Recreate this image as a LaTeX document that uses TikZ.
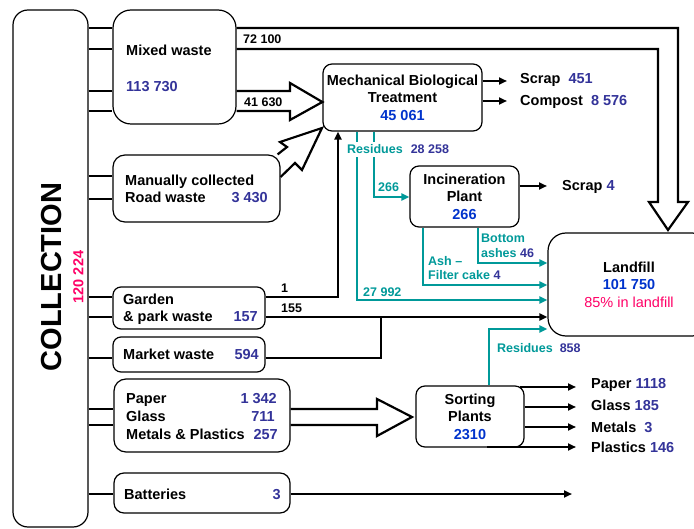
\documentclass[tikz,border=0pt]{standalone}
\usepackage{fontspec}
\setmainfont{Liberation Sans}
\usetikzlibrary{arrows.meta}

\definecolor{numblue}{RGB}{51,51,153}
\definecolor{totblue}{RGB}{0,51,204}
\definecolor{flowteal}{RGB}{0,153,153}
\definecolor{hotpink}{RGB}{255,0,102}

\tikzstyle{block} = [rectangle, draw, line width=1.2pt, rounded corners=9pt,
    inner sep=0pt, align=center, font=\fontsize{14.5}{17.5}\selectfont\bfseries]
\tikzstyle{txt} = [inner sep=0pt, font=\fontsize{14.5}{17.5}\selectfont\bfseries]
\tikzstyle{small} = [inner sep=0pt, font=\fontsize{12.5}{15}\selectfont\bfseries]
\tikzstyle{line} = [draw, line width=2.2pt]
\tikzstyle{flowline} = [line, -{Triangle[length=8pt,width=7pt]}]
\tikzstyle{tealline} = [draw, flowteal, line width=2pt, -{Triangle[length=8pt,width=7pt]}]
\tikzstyle{hollow} = [draw, line width=2.2pt, line join=miter]

\begin{document}
\begin{tikzpicture}[x=1pt, y=-1pt]
	\useasboundingbox (0,0) rectangle (694,529);
	\clip (0,0) rectangle (694,529);

	% Nodes
	\node [block, rounded corners=15pt, minimum width=75pt, minimum height=517pt] (Collection) at (50.5,268.5) {};
	\node [rotate=90, inner sep=0pt, font=\fontsize{29}{32}\selectfont\bfseries] (CollectionTitle) at (51.5,277) {COLLECTION};
	\node [txt, rotate=90, hotpink] (CollectionQty) at (78.5,277) {120 224};

	\node [block, rounded corners=18pt, minimum width=123pt, minimum height=114pt] (MixedWaste) at (174.5,67) {};
	\node [txt, anchor=base west] (MixedWasteName) at (126,55.5) {Mixed waste};
	\node [txt, anchor=base west, numblue] (MixedWasteQty) at (126,91.5) {113 730};

	\node [block, rounded corners=12pt, minimum width=167pt, minimum height=67pt] (ManualRoad) at (196.5,188.5) {};
	\node [txt, anchor=base west] (ManualRoadName) at (125,186) {Manually collected};
	\node [txt, anchor=base west] (ManualRoadName2) at (125,203) {Road waste};
	\node [txt, anchor=base east, numblue] (ManualRoadQty) at (268,203) {3 430};

	\node [block, rounded corners=8pt, minimum width=152pt, minimum height=42pt] (Garden) at (189,308) {};
	\node [txt, anchor=base west] (GardenName) at (123,305) {Garden};
	\node [txt, anchor=base west] (GardenName2) at (123,322) {\& park waste};
	\node [txt, anchor=base east, numblue] (GardenQty) at (258,322) {157};

	\node [block, rounded corners=8pt, minimum width=152pt, minimum height=35pt] (Market) at (189,354.5) {};
	\node [txt, anchor=base west] (MarketName) at (123,360) {Market waste};
	\node [txt, anchor=base east, numblue] (MarketQty) at (259,360) {594};

	\node [block, rounded corners=12pt, minimum width=176pt, minimum height=73pt] (Recyclables) at (202,415.5) {};
	\node [txt, anchor=base west] (PaperName) at (126,404) {Paper};
	\node [txt, anchor=base east, numblue] (PaperQty) at (277,404) {1 342};
	\node [txt, anchor=base west] (GlassName) at (126,422) {Glass};
	\node [txt, anchor=base east, numblue] (GlassQty) at (275,422) {711};
	\node [txt, anchor=base west] (MetalsName) at (126,439) {Metals \& Plastics};
	\node [txt, anchor=base east, numblue] (MetalsQty) at (278,439) {257};

	\node [block, rounded corners=10pt, minimum width=176pt, minimum height=40pt] (Batteries) at (202,493) {};
	\node [txt, anchor=base west] (BatteriesName) at (124,499) {Batteries};
	\node [txt, anchor=base east, numblue] (BatteriesQty) at (281,499) {3};

	\node [block, minimum width=159pt, minimum height=67pt] (MBT) at (402.5,97.5) {Mechanical Biological\\Treatment\\\textcolor{totblue}{45 061}};
	\node [block, minimum width=109pt, minimum height=61pt] (Incineration) at (464.5,196.5) {Incineration\\Plant\\\textcolor{totblue}{266}};
	\node [block, minimum width=108pt, minimum height=61pt] (Sorting) at (470,416.5) {Sorting\\Plants\\\textcolor{totblue}{2310}};
	\node [block, rounded corners=18pt, minimum width=162pt, minimum height=103pt] (Landfill) at (629,284.5) {Landfill\\\textcolor{totblue}{101 750}\\\textcolor{hotpink}{\mdseries 85\% in landfill}};

	\node [txt, anchor=base west] (ScrapMBT) at (520,84) {Scrap\hspace{8pt}\textcolor{numblue}{451}};
	\node [txt, anchor=base west] (Compost) at (520,106) {Compost\hspace{8pt}\textcolor{numblue}{8 576}};
	\node [txt, anchor=base west] (ScrapInc) at (562,191) {Scrap \textcolor{numblue}{4}};
	\node [txt, anchor=base west] (PaperOut) at (591,389) {Paper \textcolor{numblue}{1118}};
	\node [txt, anchor=base west] (GlassOut) at (591,411) {Glass \textcolor{numblue}{185}};
	\node [txt, anchor=base west] (MetalsOut) at (591,432) {Metals\hspace{8pt}\textcolor{numblue}{3}};
	\node [txt, anchor=base west] (PlasticsOut) at (591,453) {Plastics \textcolor{numblue}{146}};
	\coordinate (BatteriesEnd) at (572,494);

	% Collection links
	\foreach \y in {28,49,91,111}
		\path [line] (Collection.east |- 0,\y) -- (MixedWaste.west |- 0,\y);
	\foreach \y in {176,199}
		\path [line] (Collection.east |- 0,\y) -- (ManualRoad.west |- 0,\y);
	\foreach \y in {297,317}
		\path [line] (Collection.east |- 0,\y) -- (Garden.west |- 0,\y);
	\path [line] (Collection.east |- 0,358) -- (Market.west |- 0,358);
	\foreach \y in {409,425}
		\path [line] (Collection.east |- 0,\y) -- (Recyclables.west |- 0,\y);
	\path [line] (Collection.east |- 0,494) -- (Batteries.west |- 0,494);

	% Hollow arrows
	\path [hollow] (MixedWaste.east |- 0,28) -- (678,28) -- (678,202) -- (688,202) -- (668,230)
		-- (649,202) -- (658,202) -- (658,49) -- (MixedWaste.east |- 0,49);
	\path [hollow] (MixedWaste.east |- 0,91) -- (290,91) -- (290,83) -- (MBT.west |- 0,102)
		-- (290,120) -- (290,111) -- (MixedWaste.east |- 0,111);
	\path [hollow] ([xshift=-3pt]ManualRoad.north east) -- (287,147) -- (280,142) -- (322,128)
		-- (302,170) -- (295,163) -- (ManualRoad.east |- 0,177);
	\path [hollow] (Recyclables.east |- 0,409) -- (377,409) -- (377,399) -- (412,417)
		-- (377,436) -- (377,425) -- (Recyclables.east |- 0,425);

	% Arrows
	\path [flowline] (Garden.east |- 0,297) -- (338,297) -- (338,0 |- MBT.south);
	\path [flowline] (Garden.east |- 0,317) -- (Landfill.west |- 0,317);
	\path [line] (Market.east |- 0,358) -- (381,358) -- (381,317);
	\path [flowline] (Batteries.east |- 0,494) -- (BatteriesEnd);
	\path [flowline] (MBT.east |- 0,81) -- ([xshift=-13pt]ScrapMBT.west |- 0,81);
	\path [flowline] (MBT.east |- 0,101) -- ([xshift=-13pt]Compost.west |- 0,101);
	\path [flowline] (Incineration.east |- 0,186) -- ([xshift=-15pt]ScrapInc.west |- 0,186);
	\path [flowline] (520,387) -- ([xshift=-15pt]PaperOut.west |- 0,387);
	\path [flowline] (Sorting.east |- 0,407) -- ([xshift=-15pt]GlassOut.west |- 0,407);
	\path [flowline] (Sorting.east |- 0,427) -- ([xshift=-15pt]MetalsOut.west |- 0,427);
	\path [flowline] (487,447) -- ([xshift=-15pt]PlasticsOut.west |- 0,447);

	% Residue flows
	\path [tealline] (357,0 |- MBT.south) -- (357,300) -- (Landfill.west |- 0,300);
	\path [tealline] (374,0 |- MBT.south) -- (374,197) -- (Incineration.west |- 0,197);
	\path [tealline] (423,0 |- Incineration.south) -- (423,285) -- (Landfill.west |- 0,285);
	\path [tealline] (478,0 |- Incineration.south) -- (478,263) -- (Landfill.west |- 0,263);
	\path [tealline] (489,0 |- Sorting.north) -- (489,329) -- (Landfill.west |- 0,329);

	% Flow labels
	\node [small, anchor=base west] (MixedToLandfill) at (243,44) {72 100};
	\node [small, anchor=base west] (MixedToMBT) at (244,107) {41 630};
	\node [small, anchor=base west] (GardenToMBT) at (281,293) {1};
	\node [small, anchor=base west] (GardenToLandfill) at (281,313) {155};
	\node [small, anchor=base west, fill=white, inner sep=3pt] (MBTResidues) at (344,154)
		{\textcolor{flowteal}{Residues}\hspace{8pt}\textcolor{numblue}{28 258}};
	\node [small, anchor=base west, flowteal] (MBTToInc) at (378,192) {266};
	\node [small, anchor=base west, flowteal] (MBTToLandfill) at (363,297) {27 992};
	\node [small, anchor=base west, flowteal] (BottomAsh) at (481,243) {Bottom};
	\node [small, anchor=base west, flowteal] (BottomAsh2) at (481,258) {ashes \textcolor{numblue}{46}};
	\node [small, anchor=base west, flowteal] (FilterCake) at (428,266) {Ash --};
	\node [small, anchor=base west, flowteal] (FilterCake2) at (428,280) {Filter cake \textcolor{numblue}{4}};
	\node [small, anchor=base west, flowteal] (SortResidues) at (497,353) {Residues\hspace{7pt}\textcolor{numblue}{858}};

\end{tikzpicture}
\end{document}
